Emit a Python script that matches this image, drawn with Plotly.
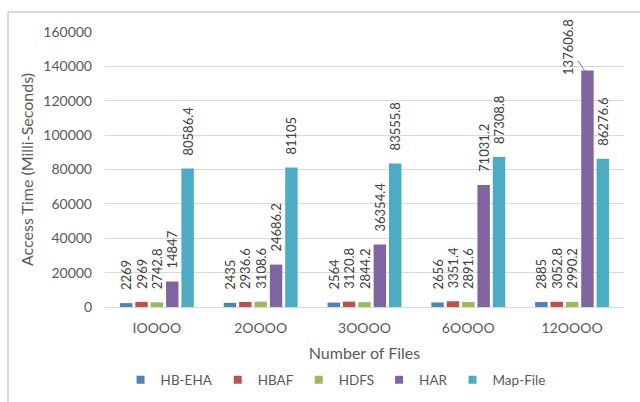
import plotly.graph_objects as go

categories = ["IOOOO", "2OOOO", "3OOOO", "6OOOO", "12OOOO"]
series_names = ["HB-EHA", "HBAF", "HDFS", "HAR", "Map-File"]
hb_eha = [2269, 2435, 2564, 2656, 2885]
hbaf = [2969, 2936.6, 3120.8, 3351.4, 3052.8]
hdfs = [2742.8, 3108.6, 2844.2, 2891.6, 2990.2]
har = [14847, 24686.2, 36354.4, 71031.2, 137606.8]
map_file = [80586.4, 81105, 83555.8, 87308.8, 86276.6]
series_values = [hb_eha, hbaf, hdfs, har, map_file]
colors = ["#4F81BD", "#C0504D", "#9BBB59", "#8064A2", "#4BACC6"]

FONT = "Lato"
GRAY = "#595959"
LABEL = "#404040"
W, H = 640, 402
ML, MR, MT, MB = 105, 16, 32, 95
BARGAP, GROUPGAP = 0.26, 0.19
PAD = "\u00a0" * 3

fig = go.Figure()
for si, (name, vals, col) in enumerate(zip(series_names, series_values, colors)):
    texts = []
    for ci, v in enumerate(vals):
        # the tallest HAR label is placed with a leader line instead
        if si == 3 and ci == len(vals) - 1:
            texts.append("")
        else:
            texts.append(PAD + str(v))
    fig.add_trace(go.Bar(
        x=categories, y=vals, name=name, marker_color=col,
        marker_line_width=0,
        text=texts, textposition="outside", textangle=-90,
        constraintext="none", cliponaxis=False,
        textfont=dict(family=FONT, size=13, color=LABEL),
        showlegend=False, hoverinfo="skip",
    ))
    # legend proxies with small square markers
    fig.add_trace(go.Scatter(
        x=[None], y=[None], mode="markers", name=name,
        marker=dict(symbol="square", size=8, color=col),
        showlegend=True,
    ))

# leader-line label for the tallest HAR bar
plot_w = W - ML - MR
slot = plot_w / len(categories) * (1 - BARGAP) / len(series_names)
har_offset = (3 - (len(series_names) - 1) / 2) * slot
fig.add_annotation(
    x=categories[-1], y=har[-1], xshift=har_offset - 3,
    text=str(har[-1]), textangle=-90,
    showarrow=True, arrowhead=0, arrowwidth=1, arrowcolor="#7F7F7F",
    ax=-16, ay=-24,
    font=dict(family=FONT, size=13, color=LABEL),
)

# chart frame (only top and left edges visible)
fx = (8 - ML) / plot_w
fy = 1 + (MT - 12) / (H - MT - MB)
fig.add_shape(type="line", xref="paper", yref="paper", x0=fx, x1=1.5, y0=fy, y1=fy,
              line=dict(color="#D9D9D9", width=2))
fig.add_shape(type="line", xref="paper", yref="paper", x0=fx, x1=fx, y0=-1, y1=fy,
              line=dict(color="#D9D9D9", width=2))

fig.update_layout(
    width=W, height=H,
    margin=dict(l=ML, r=MR, t=MT, b=MB, autoexpand=False),
    paper_bgcolor="white", plot_bgcolor="white",
    barmode="group", bargap=BARGAP, bargroupgap=GROUPGAP,
    font=dict(family=FONT, color=GRAY, size=14),
    legend=dict(orientation="h", x=0.03, xanchor="left", y=-0.265, yanchor="middle",
                font=dict(family=FONT, size=13.5, color=GRAY), itemclick=False),
    xaxis=dict(
        type="category", showgrid=False, showline=True, linecolor="#D9D9D9", linewidth=1,
        ticks="", tickfont=dict(family=FONT, size=14, color=GRAY), ticklabelstandoff=8,
        title=dict(text="Number of Files", font=dict(family=FONT, size=16, color=GRAY), standoff=13),
    ),
    yaxis=dict(
        range=[0, 160000], dtick=20000, tickformat="d",
        showgrid=True, gridcolor="#D9D9D9", gridwidth=1, zeroline=False, showline=False,
        ticks="", tickfont=dict(family=FONT, size=14, color=GRAY), ticklabelstandoff=12,
        title=dict(text="Access Time (Milli-Seconds)", font=dict(family=FONT, size=16, color=GRAY), standoff=5),
    ),
)

fig.write_html("out.html")
